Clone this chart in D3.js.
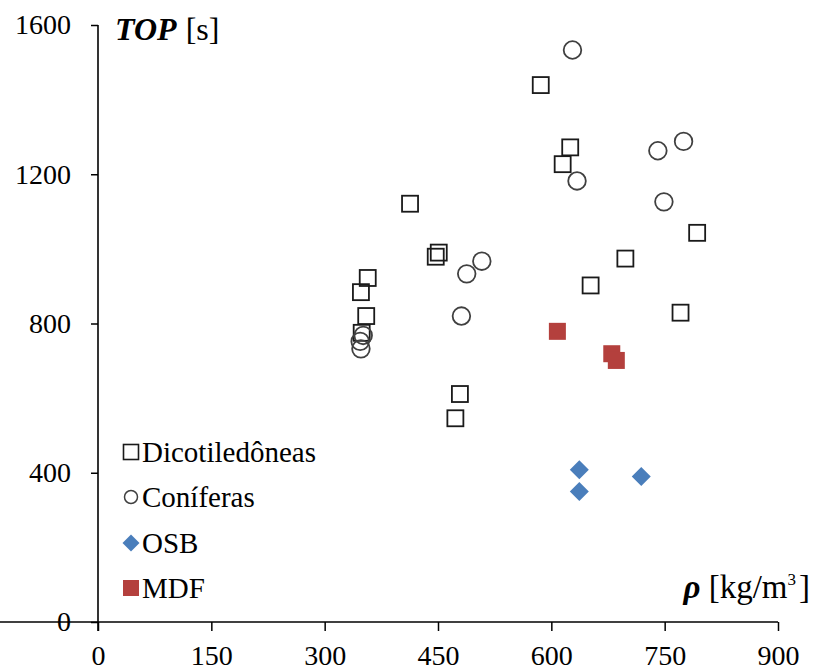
<!DOCTYPE html>
<html>
<head>
<meta charset="utf-8">
<script src="https://cdn.jsdelivr.net/npm/d3@7"></script>
<style>
  html, body { margin: 0; padding: 0; background: #fff; }
  svg { display: block; }
  svg text { font-family: "Liberation Serif", Tinos, "Times New Roman", Times, "DejaVu Serif", serif !important; fill: #000; }
</style>
</head>
<body>
<svg id="chart" width="819" height="672"></svg>
<script>
// ---- data (density kg/m3, TOP s) ----
const dicotX = [586, 625, 615, 413, 451, 447, 357, 348, 355, 349, 479, 473, 652, 771, 698, 793];
const dicotY = [1439, 1272, 1227, 1121, 990, 979, 922, 884, 820, 775, 611, 546, 902, 829, 974, 1043];
const conifX = [628, 634, 741, 775, 749, 508, 488, 481, 351, 347, 348];
const conifY = [1533, 1182, 1263, 1288, 1126, 967, 933, 820, 768, 752, 732];
const osbX = [637, 637, 719];
const osbY = [408, 350, 390];
const mdfX = [608, 680, 686];
const mdfY = [779, 719, 701];
const xTicks = [0, 150, 300, 450, 600, 750, 900];
const yTicks = [0, 400, 800, 1200, 1600];
const legendLabels = ["Dicotiledôneas", "Coníferas", "OSB", "MDF"];

const svg = d3.select("#chart");
const x = d3.scaleLinear().domain([0, 900]).range([98, 778]);
const y = d3.scaleLinear().domain([0, 1600]).range([622, 25]);

// axes
const gx = svg.append("g").attr("transform", `translate(0,${y(0)})`)
  .call(d3.axisBottom(x).tickValues(xTicks).tickSize(9).tickPadding(19).tickSizeOuter(0).tickFormat(d3.format("d")));
const gy = svg.append("g").attr("transform", `translate(${x(0)},0)`)
  .call(d3.axisLeft(y).tickValues(yTicks).tickSize(7).tickPadding(20).tickSizeOuter(0).tickFormat(d3.format("d")));
[gx, gy].forEach(g => {
  g.attr("font-family", null);
  g.select(".domain").attr("stroke", "#000").attr("stroke-width", 1.6);
  g.selectAll(".tick line").attr("stroke", "#000").attr("stroke-width", 1.5);
  g.selectAll(".tick text").attr("font-size", 28).attr("fill", "#000");
});
gx.selectAll(".tick text").attr("y", 43).attr("dy", null);
gy.select(".domain").attr("d", `M0,${y(1600)}V${y(0) + 9}`);
gx.select(".domain").attr("d", `M-7,0H${x(900)}`);

// axis titles
const t1 = svg.append("text").attr("x", 115).attr("y", 40).attr("font-size", 32);
t1.append("tspan").attr("font-weight", "bold").attr("font-style", "italic").text("TOP");
t1.append("tspan").attr("dx", 1).text(" [s]");

const t2 = svg.append("text").attr("x", 810).attr("y", 598).attr("font-size", 33).attr("text-anchor", "end");
t2.append("tspan").attr("font-weight", "bold").attr("font-style", "italic").text("ρ");
t2.append("tspan").text(" [kg/m");
t2.append("tspan").attr("font-size", 17).attr("dy", -13).text("3");
t2.append("tspan").attr("dy", 13).attr("dx", 3).text("]");

// marks
const plot = svg.append("g");
const sq = 16, msq = 17, cr = 8.8, dia = 9.5;
plot.selectAll(".dicot").data(dicotX.map((d, i) => [d, dicotY[i]])).join("rect")
  .attr("x", d => x(d[0]) - sq / 2).attr("y", d => y(d[1]) - sq / 2)
  .attr("width", sq).attr("height", sq)
  .attr("fill", "none").attr("stroke", "#1a1a1a").attr("stroke-width", 1.8);
plot.selectAll(".conif").data(conifX.map((d, i) => [d, conifY[i]])).join("circle")
  .attr("cx", d => x(d[0])).attr("cy", d => y(d[1])).attr("r", cr)
  .attr("fill", "none").attr("stroke", "#404040").attr("stroke-width", 1.8);
plot.selectAll(".osb").data(osbX.map((d, i) => [d, osbY[i]])).join("path")
  .attr("d", d => `M${x(d[0])},${y(d[1]) - dia}L${x(d[0]) + dia},${y(d[1])}L${x(d[0])},${y(d[1]) + dia}L${x(d[0]) - dia},${y(d[1])}Z`)
  .attr("fill", "#4A7EBB");
plot.selectAll(".mdf").data(mdfX.map((d, i) => [d, mdfY[i]])).join("rect")
  .attr("x", d => x(d[0]) - msq / 2).attr("y", d => y(d[1]) - msq / 2)
  .attr("width", msq).attr("height", msq)
  .attr("fill", "#B4403D");

// legend
const lg = svg.append("g");
const rowsY = [452, 497, 543, 588];
const lx = 131;
lg.append("rect").attr("x", lx - 7.5).attr("y", rowsY[0] - 7.5).attr("width", 15).attr("height", 15)
  .attr("fill", "none").attr("stroke", "#1a1a1a").attr("stroke-width", 1.6);
lg.append("circle").attr("cx", lx).attr("cy", rowsY[1]).attr("r", 6.5)
  .attr("fill", "none").attr("stroke", "#404040").attr("stroke-width", 1.5);
lg.append("path").attr("d", `M${lx},${rowsY[2] - 8.5}L${lx + 8.5},${rowsY[2]}L${lx},${rowsY[2] + 8.5}L${lx - 8.5},${rowsY[2]}Z`)
  .attr("fill", "#4A7EBB");
lg.append("rect").attr("x", lx - 8).attr("y", rowsY[3] - 8).attr("width", 16).attr("height", 16)
  .attr("fill", "#B4403D");
lg.selectAll(".lt").data(legendLabels).join("text")
  .attr("x", 142).attr("y", (d, i) => rowsY[i]).attr("dy", "0.35em")
  .attr("font-size", 29).text(d => d);
</script>
</body>
</html>
